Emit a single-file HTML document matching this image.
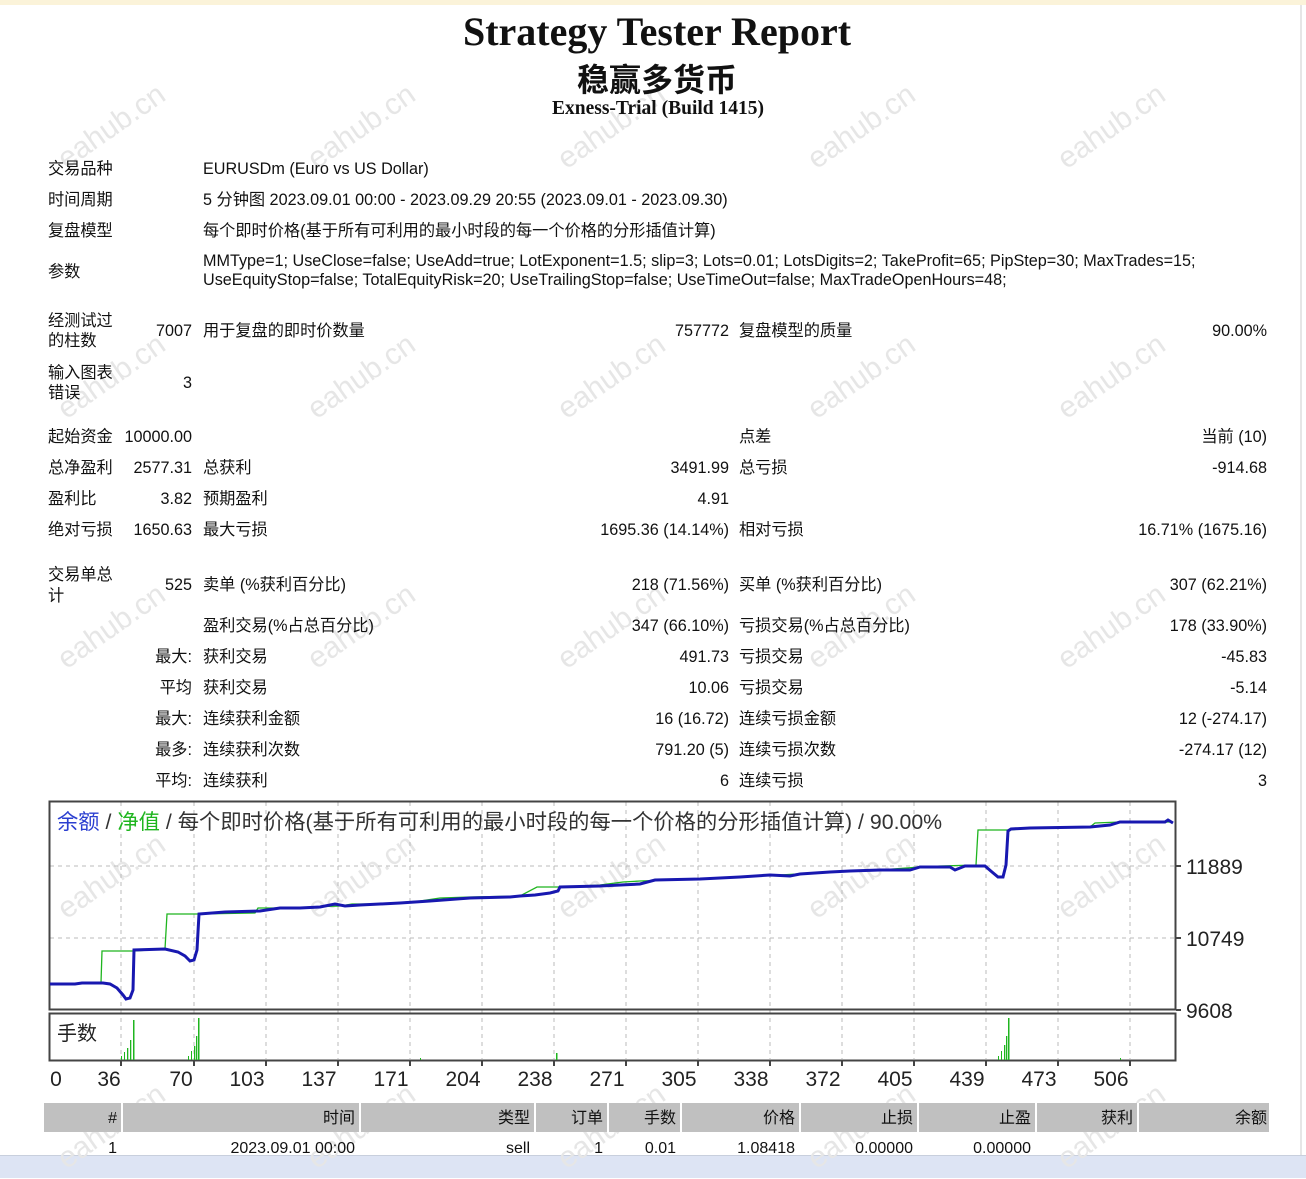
<!DOCTYPE html>
<html><head><meta charset="utf-8"><style>
body{margin:0;width:1306px;height:1177px;position:relative;background:#fff;overflow:hidden;font-family:"Liberation Sans","Noto Sans CJK SC",sans-serif;font-size:16.2px;color:#111}
.c{position:absolute;left:0;top:2px;width:1306px;height:1177px}
.t{position:absolute;white-space:nowrap;line-height:20px}
.r{text-align:right}
.wm{position:absolute;color:#e6e6e6;font-size:30px;transform:rotate(-35deg);white-space:nowrap;font-family:"Liberation Sans",sans-serif}
</style></head><body>
<div style="position:absolute;left:0;top:0;width:1306px;height:5px;background:#fbf3d9"></div>
<div style="position:absolute;left:0;top:1155px;width:1306px;height:22px;background:#dde4f4;border-top:1px solid #c8cfdd"></div>
<div style="position:absolute;left:1300px;top:5px;width:2px;height:1150px;background:#e6e6e6"></div>
<div class="wm" style="left:50px;top:110px">eahub.cn</div>
<div class="wm" style="left:300px;top:110px">eahub.cn</div>
<div class="wm" style="left:550px;top:110px">eahub.cn</div>
<div class="wm" style="left:800px;top:110px">eahub.cn</div>
<div class="wm" style="left:1050px;top:110px">eahub.cn</div>
<div class="wm" style="left:50px;top:360px">eahub.cn</div>
<div class="wm" style="left:300px;top:360px">eahub.cn</div>
<div class="wm" style="left:550px;top:360px">eahub.cn</div>
<div class="wm" style="left:800px;top:360px">eahub.cn</div>
<div class="wm" style="left:1050px;top:360px">eahub.cn</div>
<div class="wm" style="left:50px;top:610px">eahub.cn</div>
<div class="wm" style="left:300px;top:610px">eahub.cn</div>
<div class="wm" style="left:550px;top:610px">eahub.cn</div>
<div class="wm" style="left:800px;top:610px">eahub.cn</div>
<div class="wm" style="left:1050px;top:610px">eahub.cn</div>
<div class="wm" style="left:50px;top:860px">eahub.cn</div>
<div class="wm" style="left:300px;top:860px">eahub.cn</div>
<div class="wm" style="left:550px;top:860px">eahub.cn</div>
<div class="wm" style="left:800px;top:860px">eahub.cn</div>
<div class="wm" style="left:1050px;top:860px">eahub.cn</div>
<div class="wm" style="left:50px;top:1110px">eahub.cn</div>
<div class="wm" style="left:300px;top:1110px">eahub.cn</div>
<div class="wm" style="left:550px;top:1110px">eahub.cn</div>
<div class="wm" style="left:800px;top:1110px">eahub.cn</div>
<div class="wm" style="left:1050px;top:1110px">eahub.cn</div>

<div class="t" style="left:0;width:1314px;text-align:center;top:9px;line-height:46px;font-family:'Liberation Serif',serif;font-weight:bold;font-size:40px">Strategy Tester Report</div>
<div class="t" style="left:0;width:1314px;text-align:center;top:58px;line-height:40px;font-weight:bold;font-size:32px;font-family:'Noto Sans CJK SC',sans-serif">稳赢多货币</div>
<div class="t" style="left:0;width:1316px;text-align:center;top:98px;line-height:22px;font-family:'Liberation Serif',serif;font-weight:bold;font-size:19.5px">Exness-Trial (Build 1415)</div>

<div class="c">
<div class="t" style="left:48px;top:157px">交易品种</div><div class="t" style="left:203px;top:157px">EURUSDm (Euro vs US Dollar)</div>
<div class="t" style="left:48px;top:188px">时间周期</div><div class="t" style="left:203px;top:188px">5 分钟图 2023.09.01 00:00 - 2023.09.29 20:55 (2023.09.01 - 2023.09.30)</div>
<div class="t" style="left:48px;top:219px">复盘模型</div><div class="t" style="left:203px;top:219px">每个即时价格(基于所有可利用的最小时段的每一个价格的分形插值计算)</div>
<div class="t" style="left:48px;top:260px">参数</div>
<div class="t" style="left:203px;top:249px">MMType=1; UseClose=false; UseAdd=true; LotExponent=1.5; slip=3; Lots=0.01; LotsDigits=2; TakeProfit=65; PipStep=30; MaxTrades=15;</div>
<div class="t" style="left:203px;top:268px">UseEquityStop=false; TotalEquityRisk=20; UseTrailingStop=false; UseTimeOut=false; MaxTradeOpenHours=48;</div>

<div class="t" style="left:48px;top:309px">经测试过</div><div class="t" style="left:48px;top:329px">的柱数</div>
<div class="t r" style="right:1114px;top:319px">7007</div><div class="t" style="left:203px;top:319px">用于复盘的即时价数量</div>
<div class="t r" style="right:577px;top:319px">757772</div><div class="t" style="left:739px;top:319px">复盘模型的质量</div><div class="t r" style="right:39px;top:319px">90.00%</div>
<div class="t" style="left:48px;top:361px">输入图表</div><div class="t" style="left:48px;top:381px">错误</div><div class="t r" style="right:1114px;top:371px">3</div>

<div class="t" style="left:48px;top:425px">起始资金</div><div class="t r" style="right:1114px;top:425px">10000.00</div><div class="t" style="left:739px;top:425px">点差</div><div class="t r" style="right:39px;top:425px">当前 (10)</div>
<div class="t" style="left:48px;top:456px">总净盈利</div><div class="t r" style="right:1114px;top:456px">2577.31</div><div class="t" style="left:203px;top:456px">总获利</div><div class="t r" style="right:577px;top:456px">3491.99</div><div class="t" style="left:739px;top:456px">总亏损</div><div class="t r" style="right:39px;top:456px">-914.68</div>
<div class="t" style="left:48px;top:487px">盈利比</div><div class="t r" style="right:1114px;top:487px">3.82</div><div class="t" style="left:203px;top:487px">预期盈利</div><div class="t r" style="right:577px;top:487px">4.91</div>
<div class="t" style="left:48px;top:518px">绝对亏损</div><div class="t r" style="right:1114px;top:518px">1650.63</div><div class="t" style="left:203px;top:518px">最大亏损</div><div class="t r" style="right:577px;top:518px">1695.36 (14.14%)</div><div class="t" style="left:739px;top:518px">相对亏损</div><div class="t r" style="right:39px;top:518px">16.71% (1675.16)</div>

<div class="t" style="left:48px;top:563px">交易单总</div><div class="t" style="left:48px;top:584px">计</div>
<div class="t r" style="right:1114px;top:573px">525</div><div class="t" style="left:203px;top:573px">卖单 (%获利百分比)</div><div class="t r" style="right:577px;top:573px">218 (71.56%)</div><div class="t" style="left:739px;top:573px">买单 (%获利百分比)</div><div class="t r" style="right:39px;top:573px">307 (62.21%)</div>
<div class="t" style="left:203px;top:614px">盈利交易(%占总百分比)</div><div class="t r" style="right:577px;top:614px">347 (66.10%)</div><div class="t" style="left:739px;top:614px">亏损交易(%占总百分比)</div><div class="t r" style="right:39px;top:614px">178 (33.90%)</div>
<div class="t r" style="right:1114px;top:645px">最大:</div><div class="t" style="left:203px;top:645px">获利交易</div><div class="t r" style="right:577px;top:645px">491.73</div><div class="t" style="left:739px;top:645px">亏损交易</div><div class="t r" style="right:39px;top:645px">-45.83</div>
<div class="t r" style="right:1114px;top:676px">平均</div><div class="t" style="left:203px;top:676px">获利交易</div><div class="t r" style="right:577px;top:676px">10.06</div><div class="t" style="left:739px;top:676px">亏损交易</div><div class="t r" style="right:39px;top:676px">-5.14</div>
<div class="t r" style="right:1114px;top:707px">最大:</div><div class="t" style="left:203px;top:707px">连续获利金额</div><div class="t r" style="right:577px;top:707px">16 (16.72)</div><div class="t" style="left:739px;top:707px">连续亏损金额</div><div class="t r" style="right:39px;top:707px">12 (-274.17)</div>
<div class="t r" style="right:1114px;top:738px">最多:</div><div class="t" style="left:203px;top:738px">连续获利次数</div><div class="t r" style="right:577px;top:738px">791.20 (5)</div><div class="t" style="left:739px;top:738px">连续亏损次数</div><div class="t r" style="right:39px;top:738px">-274.17 (12)</div>
<div class="t r" style="right:1114px;top:769px">平均:</div><div class="t" style="left:203px;top:769px">连续获利</div><div class="t r" style="right:577px;top:769px">6</div><div class="t" style="left:739px;top:769px">连续亏损</div><div class="t r" style="right:39px;top:769px">3</div>
</div>

<svg style="position:absolute;left:0;top:0" width="1306" height="1177">
<g stroke="#bbb" stroke-dasharray="4,4" stroke-width="1">
<line x1="50" x2="1175" y1="866" y2="866"/><line x1="50" x2="1175" y1="938" y2="938"/>
<line x1="121" x2="121" y1="802" y2="1059"/><line x1="194" x2="194" y1="802" y2="1059"/><line x1="266" x2="266" y1="802" y2="1059"/><line x1="338" x2="338" y1="802" y2="1059"/><line x1="410" x2="410" y1="802" y2="1059"/><line x1="482" x2="482" y1="802" y2="1059"/><line x1="554" x2="554" y1="802" y2="1059"/><line x1="626" x2="626" y1="802" y2="1059"/><line x1="698" x2="698" y1="802" y2="1059"/><line x1="770" x2="770" y1="802" y2="1059"/><line x1="842" x2="842" y1="802" y2="1059"/><line x1="914" x2="914" y1="802" y2="1059"/><line x1="986" x2="986" y1="802" y2="1059"/><line x1="1058" x2="1058" y1="802" y2="1059"/><line x1="1130" x2="1130" y1="802" y2="1059"/>
</g>
<rect x="49.5" y="801.5" width="1126" height="208" fill="none" stroke="#444" stroke-width="2"/>
<rect x="49.5" y="1013.5" width="1126" height="47" fill="none" stroke="#444" stroke-width="2"/>
<g stroke="#444" stroke-width="2"><line x1="1176" x2="1181" y1="866" y2="866"/><line x1="1176" x2="1181" y1="938" y2="938"/><line x1="1176" x2="1181" y1="1010" y2="1010"/>
<line x1="121" x2="121" y1="1061" y2="1066"/><line x1="194" x2="194" y1="1061" y2="1066"/><line x1="266" x2="266" y1="1061" y2="1066"/><line x1="338" x2="338" y1="1061" y2="1066"/><line x1="410" x2="410" y1="1061" y2="1066"/><line x1="482" x2="482" y1="1061" y2="1066"/><line x1="554" x2="554" y1="1061" y2="1066"/><line x1="626" x2="626" y1="1061" y2="1066"/><line x1="698" x2="698" y1="1061" y2="1066"/><line x1="770" x2="770" y1="1061" y2="1066"/><line x1="842" x2="842" y1="1061" y2="1066"/><line x1="914" x2="914" y1="1061" y2="1066"/><line x1="986" x2="986" y1="1061" y2="1066"/><line x1="1058" x2="1058" y1="1061" y2="1066"/><line x1="1130" x2="1130" y1="1061" y2="1066"/></g>
<polyline fill="none" stroke="#1fb51f" stroke-width="1.3" points="50,984 101,983 102,951 134,951 165,949 167,914 200,914 255,913 258,908 280,908 340,906 352,904 380,904 420,901 440,898 470,897 520,896 537,887 560,887 600,885 623,882 640,881 700,879 740,877 780,875 830,872 880,870 920,867 940,866 976,865 978,830 1010,830 1030,828 1090,827 1095,823 1120,822 1170,822"/>
<polyline fill="none" stroke="#1818b0" stroke-width="3" points="50,984 75,984 82,983 103,983 110,984 117,988 123,995 126,999 130,998 133,990 134,950 165,949 178,952 185,956 190,961 194,960 197,950 199,914 225,912 260,911 280,908 300,908 320,907 335,904 345,906 360,905 380,904 400,903 430,901 470,898 510,897 520,896 535,895 550,893 558,891 560,887 600,886 640,884 655,880 700,879 740,877 770,875 790,876 800,874 830,872 850,871 880,870 910,870 920,867 950,867 955,870 965,866 985,866 992,872 998,877 1003,877 1006,865 1008,831 1011,829 1030,828 1090,827 1110,825 1120,822 1165,822 1168,820 1173,823"/>
<g fill="#1fb51f">
<rect x="121" y="1056" width="1" height="4"/><rect x="124" y="1052" width="1" height="8"/><rect x="127" y="1048" width="1.3" height="12"/><rect x="130" y="1040" width="1.3" height="20"/><rect x="133" y="1020" width="1.5" height="40"/>
<rect x="188" y="1056" width="1" height="4"/><rect x="191" y="1051" width="1" height="9"/><rect x="194" y="1046" width="1.3" height="14"/><rect x="196" y="1036" width="1.3" height="24"/><rect x="198" y="1018" width="1.5" height="42"/>
<rect x="556" y="1053" width="1.5" height="7"/><rect x="420" y="1058" width="1" height="2"/><rect x="1120" y="1058" width="1" height="2"/>
<rect x="998" y="1056" width="1" height="4"/><rect x="1001" y="1051" width="1" height="9"/><rect x="1004" y="1045" width="1.3" height="15"/><rect x="1006" y="1036" width="1.3" height="24"/><rect x="1008" y="1018" width="1.5" height="42"/>
</g>
<g font-family="Liberation Sans,sans-serif" font-size="21" fill="#222">
<text x="1186" y="874">11889</text><text x="1186" y="946">10749</text><text x="1186" y="1018">9608</text>
<g text-anchor="middle"><text x="56" y="1086">0</text><text x="109" y="1086">36</text><text x="181" y="1086">70</text><text x="247" y="1086">103</text><text x="319" y="1086">137</text><text x="391" y="1086">171</text><text x="463" y="1086">204</text><text x="535" y="1086">238</text><text x="607" y="1086">271</text><text x="679" y="1086">305</text><text x="751" y="1086">338</text><text x="823" y="1086">372</text><text x="895" y="1086">405</text><text x="967" y="1086">439</text><text x="1039" y="1086">473</text><text x="1111" y="1086">506</text></g>
</g>
<text x="57" y="829" font-family="Liberation Sans,Noto Sans CJK SC,sans-serif" font-size="21.3"><tspan fill="#2b3fd0">余额</tspan><tspan fill="#333"> / </tspan><tspan fill="#1fb51f">净值</tspan><tspan fill="#333"> / 每个即时价格(基于所有可利用的最小时段的每一个价格的分形插值计算) / 90.00%</tspan></text>
<text x="57" y="1040" font-family="Liberation Sans,Noto Sans CJK SC,sans-serif" font-size="20" fill="#222">手数</text>
<rect x="44" y="1103" width="1225" height="29" fill="#c0c0c0"/>
<g stroke="#fff" stroke-width="2"><line x1="122" x2="122" y1="1103" y2="1132"/><line x1="360" x2="360" y1="1103" y2="1132"/><line x1="535" x2="535" y1="1103" y2="1132"/><line x1="608" x2="608" y1="1103" y2="1132"/><line x1="681" x2="681" y1="1103" y2="1132"/><line x1="800" x2="800" y1="1103" y2="1132"/><line x1="918" x2="918" y1="1103" y2="1132"/><line x1="1036" x2="1036" y1="1103" y2="1132"/><line x1="1138" x2="1138" y1="1103" y2="1132"/></g>
<g font-family="Liberation Sans,Noto Sans CJK SC,sans-serif" font-size="16" fill="#111" text-anchor="end">
<text x="117" y="1123">#</text><text x="355" y="1123">时间</text><text x="530" y="1123">类型</text><text x="603" y="1123">订单</text><text x="676" y="1123">手数</text><text x="795" y="1123">价格</text><text x="913" y="1123">止损</text><text x="1031" y="1123">止盈</text><text x="1133" y="1123">获利</text><text x="1267" y="1123">余额</text>
<text x="117" y="1153">1</text><text x="355" y="1153">2023.09.01 00:00</text><text x="530" y="1153">sell</text><text x="603" y="1153">1</text><text x="676" y="1153">0.01</text><text x="795" y="1153">1.08418</text><text x="913" y="1153">0.00000</text><text x="1031" y="1153">0.00000</text>
</g>
</svg>
</body></html>
